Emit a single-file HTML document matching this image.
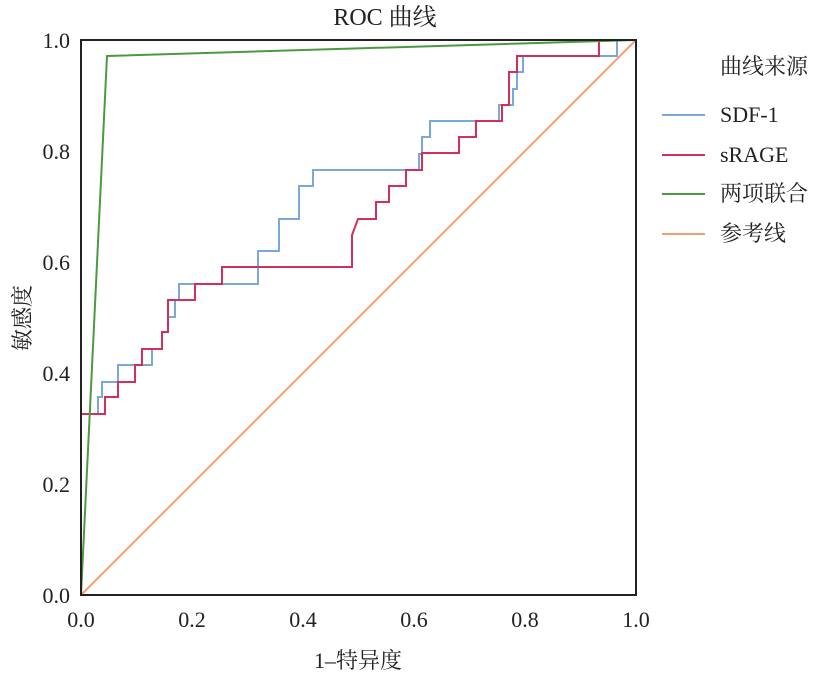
<!DOCTYPE html><html><head><meta charset="utf-8"><style>body{margin:0;background:#fff}</style></head><body>
<svg width="838" height="678" xmlns="http://www.w3.org/2000/svg" font-family="Liberation Serif, Noto Serif CJK SC, serif">
<rect width="838" height="678" fill="#fff"/>
<text x="385" y="25" font-size="24" text-anchor="middle" fill="#222">ROC 曲线</text>
<g fill="none" stroke-width="2">
<line x1="81" y1="595" x2="636" y2="40" stroke="#f0a070"/>
<polyline stroke="#7aa8dc" points="81,595 81,414 98,414 98,397 102,397 102,382 118,382 118,365 152,365 152,349 162,349 162,332 168,332 168,317 175,317 175,300 179,300 179,284 258,284 258,251 279,251 279,219 299,219 299,186 313,186 313,170 419,170 419,154 422,154 422,137 430,137 430,121 499,121 499,105 513,105 513,89 517,89 517,72 523,72 523,56 617,56 617,40 636,40"/>
<polyline stroke="#d0305a" points="81,595 81,414 105,414 105,397 118,397 118,382 135,382 135,365 142,365 142,349 162,349 162,332 168,332 168,300 195,300 195,284 222,284 222,267 352,267 352,235 358,219 376,219 376,202 389,202 389,186 406,186 406,170 422,170 422,153 459,153 459,137 476,137 476,121 502,121 502,105 509,105 509,72 517,72 517,56 599,56 599,40 636,40"/>
<polyline stroke="#4a9a40" points="81,595 107,56 636,40"/>
</g>
<rect x="81" y="40" width="555" height="555" fill="none" stroke="#222" stroke-width="2"/>
<g font-size="22" fill="#222" text-anchor="end">
<text x="70" y="48">1.0</text><text x="70" y="159">0.8</text><text x="70" y="270">0.6</text><text x="70" y="381">0.4</text><text x="70" y="492">0.2</text><text x="70" y="603">0.0</text>
</g>
<g font-size="22" fill="#222" text-anchor="middle">
<text x="81" y="627">0.0</text><text x="192" y="627">0.2</text><text x="303" y="627">0.4</text><text x="414" y="627">0.6</text><text x="525" y="627">0.8</text><text x="636" y="627">1.0</text>
<text x="358" y="668">1–特异度</text>
</g>
<text transform="translate(30,318) rotate(-90)" font-size="22" fill="#222" text-anchor="middle">敏感度</text>
<g font-size="22" fill="#222">
<text x="720" y="74">曲线来源</text>
<text x="720" y="122">SDF-1</text><text x="720" y="162">sRAGE</text><text x="720" y="201">两项联合</text><text x="720" y="241">参考线</text>
</g>
<g stroke-width="2">
<line x1="662" y1="115" x2="705" y2="115" stroke="#7aa8dc"/>
<line x1="662" y1="155" x2="705" y2="155" stroke="#d0305a"/>
<line x1="662" y1="194" x2="705" y2="194" stroke="#4a9a40"/>
<line x1="662" y1="234" x2="705" y2="234" stroke="#f0a070"/>
</g>
</svg></body></html>
